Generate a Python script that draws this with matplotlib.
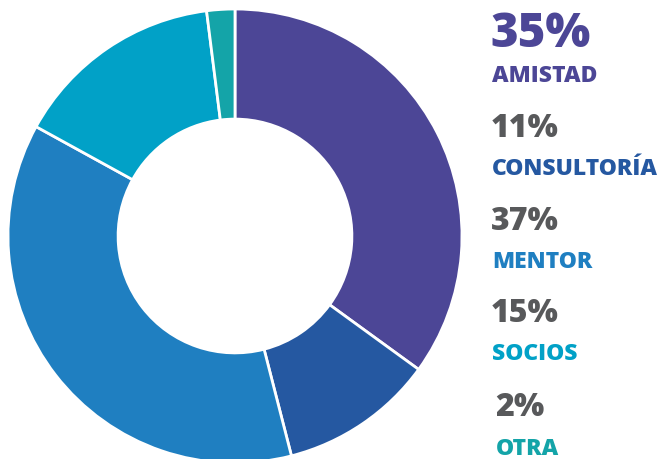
import matplotlib.pyplot as plt

categories = ["AMISTAD", "CONSULTORÍA", "MENTOR", "SOCIOS", "OTRA"]
shares = [35, 11, 37, 15, 2]
colors = ["#4C4696", "#2558A1", "#1F7FC1", "#01A1C7", "#14A4A8"]

W, H = 671, 460
fig = plt.figure(figsize=(W / 100, H / 100), dpi=100)

# donut, placed in pixel units
cx, cy, r = 235, 237, 227
ax = fig.add_axes([(cx - r) / W, (H - cy - r) / H, 2 * r / W, 2 * r / H])
ax.pie(shares, colors=colors, startangle=90, counterclock=False, radius=1,
       wedgeprops=dict(width=0.485, edgecolor="white", linewidth=2))
ax.set_xlim(-1.0, 1.0)
ax.set_ylim(-1.0, 1.0)
ax.set_aspect("equal")
ax.axis("off")

# legend column: percentage above category name
pct_y = [47, 137, 230, 322, 416]
name_y = [82, 175, 268, 360, 455]
pct_x = [490, 491, 491, 491, 495]
name_x = [492, 492, 492, 492, 496]
font = "Open Sans"
for i, (cat, val, col) in enumerate(zip(categories, shares, colors)):
    big = i == 0
    fig.text(pct_x[i] / W, 1 - pct_y[i] / H, f"{val}%",
             fontsize=34 if big else 23, fontweight="heavy", family=font,
             color=col if big else "#58595B", va="baseline", ha="left")
    fig.text(name_x[i] / W, 1 - name_y[i] / H, cat,
             fontsize=16.5, fontweight="heavy", family=font,
             color=col, va="baseline", ha="left")

fig.savefig("out.png", dpi=100)
